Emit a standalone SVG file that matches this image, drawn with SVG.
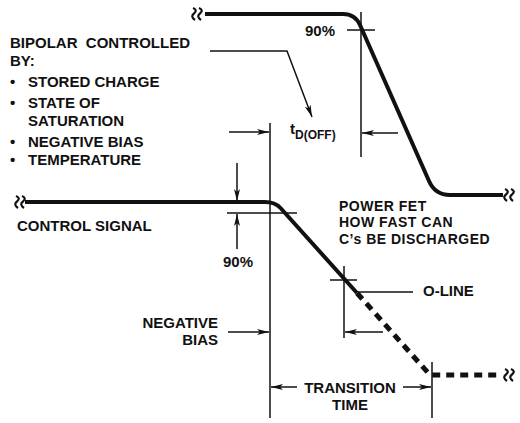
<svg xmlns="http://www.w3.org/2000/svg" xmlns:xlink="http://www.w3.org/1999/xlink" width="520" height="423" viewBox="0 0 520 423">
<style>
.t{font-family:"Liberation Sans",Arial,sans-serif;font-weight:bold;font-size:15px;fill:#111}
.p{font-size:14px;letter-spacing:0.5px}
.s{font-size:12px}
.wave{fill:none;stroke:#111;stroke-width:4;stroke-linejoin:round}
.dash{fill:none;stroke:#111;stroke-width:5;stroke-dasharray:8 6}
.thin{fill:none;stroke:#111;stroke-width:1.5}
.arr{fill:none;stroke:#111;stroke-width:1.5;marker-end:url(#ah)}
.sq{fill:none;stroke:#111;stroke-width:2.2}
</style>
<defs>
<marker id="ah" viewBox="0 0 12 6" refX="12" refY="3" markerWidth="12" markerHeight="6" markerUnits="userSpaceOnUse" orient="auto">
<path d="M0,0 L12,3 L0,6 L3,3 Z" fill="#111"/>
</marker>
<path id="sq" d="M-5,-6 q5,2 1,5.5 q-4,3 1,6.5 M1,-6 q5,2 1,5.5 q-4,3 1,6.5"/>
</defs>
<rect width="520" height="423" fill="#fff"/>

<g id="top-waveform">
<path class="wave" d="M205,14 L343,14 Q355,14 360,25 L429,181 Q435,195 450,195 L503,195"/>
<use href="#sq" x="198" y="14" class="sq"/>
<use href="#sq" x="510" y="195" class="sq"/>
</g>

<g id="control-waveform">
<path class="wave" d="M25,202 L265,202 Q275,202 280.5,208 L357,293"/>
<path class="dash" d="M357,293 L430,375 L502,375"/>
<use href="#sq" x="21" y="202" class="sq"/>
<use href="#sq" x="510" y="375" class="sq"/>
</g>

<g id="bipolar-label">
<text class="t" x="10" y="48" xml:space="preserve">BIPOLAR  CONTROLLED</text>
<text class="t" x="10" y="66">BY:</text>
<text class="t" x="10" y="87">•</text><text class="t" x="28" y="87">STORED CHARGE</text>
<text class="t" x="10" y="108">•</text><text class="t" x="28" y="108">STATE OF</text>
<text class="t" x="28" y="126">SATURATION</text>
<text class="t" x="10" y="147">•</text><text class="t" x="28" y="147">NEGATIVE BIAS</text>
<text class="t" x="10" y="165">•</text><text class="t" x="28" y="165">TEMPERATURE</text>
</g>

<g id="top-90-label"><text class="t" x="335" y="36" text-anchor="end">90%</text></g>
<g id="tdoff-label"><text class="t" x="290" y="134">t<tspan class="s" dy="5">D(OFF)</tspan></text></g>
<g id="control-signal-label"><text class="t" x="17" y="231">CONTROL SIGNAL</text></g>
<g id="mid-90-label"><text class="t" x="238" y="267" text-anchor="middle">90%</text></g>
<g id="power-fet-label">
<text class="t p" x="339" y="211">POWER FET</text>
<text class="t p" x="339" y="227.3">HOW FAST CAN</text>
<text class="t p" x="339" y="243.6">C’s BE DISCHARGED</text>
</g>
<g id="oline-label"><text class="t" x="423" y="296">O-LINE</text></g>
<g id="negative-bias-label">
<text class="t" x="218" y="328" text-anchor="end">NEGATIVE</text>
<text class="t" x="218" y="345" text-anchor="end">BIAS</text>
</g>
<g id="transition-time-label">
<text class="t" x="350" y="393" text-anchor="middle">TRANSITION</text>
<text class="t" x="350" y="410" text-anchor="middle">TIME</text>
</g>

<g id="connectors">
<line class="thin" x1="347" y1="30" x2="375" y2="30"/>
<line class="thin" x1="361" y1="12" x2="361" y2="157"/>
<line class="arr" x1="398" y1="133" x2="362" y2="133"/>
<line class="thin" x1="270" y1="123" x2="270" y2="418"/>
<line class="arr" x1="229" y1="132" x2="269" y2="132"/>
<polyline class="arr" points="210,51 287,51 312,117"/>
<line class="thin" x1="227" y1="213" x2="297" y2="213"/>
<line class="arr" x1="237" y1="163" x2="237" y2="201"/>
<line class="arr" x1="237" y1="249" x2="237" y2="214"/>
<line class="thin" x1="330" y1="280" x2="357" y2="280"/>
<line class="thin" x1="344" y1="266" x2="344" y2="338"/>
<line class="arr" x1="383" y1="332" x2="345" y2="332"/>
<line class="thin" x1="358" y1="292" x2="413" y2="292"/>
<line class="arr" x1="228" y1="332" x2="269" y2="332"/>
<line class="thin" x1="432" y1="362" x2="432" y2="418"/>
<line class="arr" x1="297" y1="387" x2="271" y2="387"/>
<line class="arr" x1="403" y1="387" x2="431" y2="387"/>
</g>
</svg>
